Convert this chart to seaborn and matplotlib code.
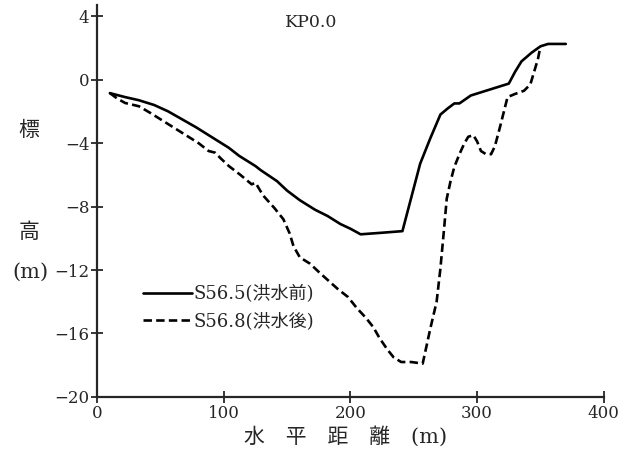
import numpy as np
import pandas as pd
import matplotlib
matplotlib.use("Agg")
import matplotlib.pyplot as plt
import seaborn as sns

# 横断面データ (KP0.0)
x_before = [10, 22, 33, 45, 56, 67, 78, 90, 104, 112, 125, 129, 142, 150, 160, 172,
            182, 192, 200, 208, 225, 241, 255, 263, 271, 277, 282, 286, 295, 313,
            325, 330, 335, 343, 350, 356, 370]
y_before = [-0.85, -1.1, -1.3, -1.6, -2.0, -2.5, -3.0, -3.6, -4.3, -4.8, -5.45, -5.7,
            -6.4, -7.0, -7.6, -8.2, -8.6, -9.1, -9.4, -9.75, -9.65, -9.55, -5.3, -3.7,
            -2.2, -1.8, -1.5, -1.5, -1.0, -0.55, -0.25, 0.5, 1.15, 1.7, 2.1, 2.25, 2.25]

x_after = [10, 16, 22, 33, 42, 51, 60, 70, 80, 88, 93, 98, 104, 113, 122, 125, 131,
           140, 147, 152, 155, 160, 168, 176, 183, 190, 198, 205, 212, 218, 223, 229,
           234, 240, 248, 257, 260, 263, 268, 271, 274, 276, 279, 282, 286, 290, 293,
           297, 300, 303, 307, 311, 314, 318, 324, 330, 337, 342, 345, 348, 350]
y_after = [-0.85, -1.2, -1.47, -1.68, -2.1, -2.55, -3.0, -3.5, -4.0, -4.5, -4.6, -5.0,
           -5.45, -6.0, -6.6, -6.5, -7.3, -8.1, -8.8, -9.7, -10.5, -11.2, -11.6, -12.2,
           -12.7, -13.2, -13.7, -14.4, -15.0, -15.6, -16.3, -17.0, -17.5, -17.8, -17.8,
           -17.9, -16.8, -15.7, -14.0, -11.9, -9.3, -7.5, -6.4, -5.5, -4.7, -4.0, -3.6,
           -3.5, -3.9, -4.5, -4.7, -4.7, -4.2, -3.0, -1.1, -0.9, -0.7, -0.3, 0.5, 1.3, 2.1]

labels = ["S56.5(洪水前)", "S56.8(洪水後)"]
x_ticks = [0, 100, 200, 300, 400]
y_ticks = [4, 0, -4, -8, -12, -16, -20]

sns.set_style("ticks")
plt.rcParams['font.family'] = ['DejaVu Serif', 'Noto Sans CJK JP']
plt.rcParams['axes.unicode_minus'] = True

df_before = pd.DataFrame({'x': x_before, 'y': y_before})
df_after = pd.DataFrame({'x': x_after, 'y': y_after})

fig = plt.figure(figsize=(6.27, 4.61), dpi=100)
ax = fig.add_axes([0.155, 0.139, 0.808, 0.85])

sns.lineplot(data=df_before, x='x', y='y', ax=ax, color='black', lw=1.9,
             sort=False, estimator=None, label=labels[0])
sns.lineplot(data=df_after, x='x', y='y', ax=ax, color='black', lw=1.9,
             linestyle=(0, (3.2, 1.6)), sort=False, estimator=None, label=labels[1])

ax.set_xlim(0, 400)
ax.set_ylim(-20, 4.7)
ax.set_xticks(x_ticks)
ax.set_yticks(y_ticks)
ax.tick_params(direction='inout', length=9, width=1.3, labelsize=12, pad=1)
for side in ['left', 'bottom']:
    ax.spines[side].set_linewidth(1.6)
sns.despine(ax=ax)

ax.set_xlabel("水　平　距　離　(m)", fontsize=15, labelpad=3)
ax.xaxis.set_label_coords(0.49, -0.075)
ax.set_ylabel("")
ax.text(148, 3.6, "KP0.0", fontsize=12.5, va='center', ha='left')

# 縦軸ラベル (標 / 高 / (m))
fig.text(29 / 627, 1 - 130 / 461, "標", fontsize=15, ha='center', va='center')
fig.text(29 / 627, 1 - 232 / 461, "高", fontsize=15, ha='center', va='center')
fig.text(30 / 627, 1 - 272 / 461, "(m)", fontsize=15, ha='center', va='center')

ax.legend(loc='upper left', bbox_to_anchor=(0.09, 0.285), frameon=False,
          fontsize=13, handlelength=2.7, handletextpad=0.1, borderpad=0,
          borderaxespad=0, labelspacing=0.5)

fig.savefig("out.png", dpi=100)
